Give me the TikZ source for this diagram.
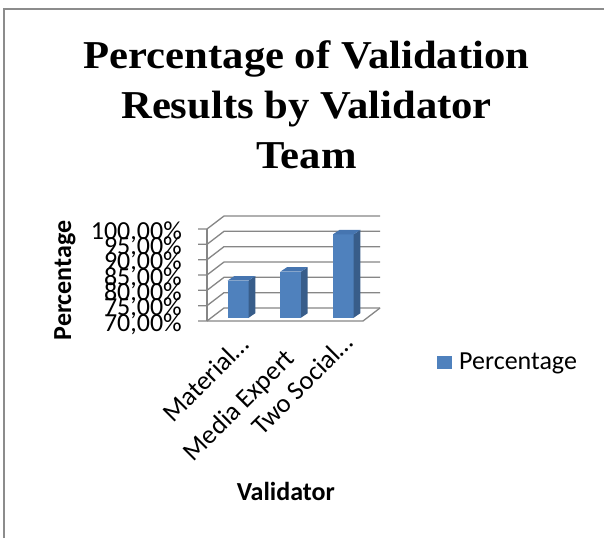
\documentclass[tikz,border=0pt]{standalone}
\usepackage{fontspec}
\setmainfont{Carlito}
\newfontfamily\titlefont{Liberation Serif}
\definecolor{gridgray}{HTML}{868686}
\definecolor{framegray}{HTML}{8C8C8C}
\definecolor{barfront}{HTML}{4F81BD}
\definecolor{barside}{HTML}{385D8A}
\definecolor{bartop}{HTML}{4675B0}
\newcommand\drawcolumn[3]{%
  \fill[barfront] (#1,#3) rectangle (#2,317.7);
  \fill[barside] (#2,#3) -- ({#2+6.7},{#3-4.5}) -- ({#2+6.7},313.2) -- (#2,317.7) -- cycle;
  \fill[bartop] (#1,#3) -- ({#1+6.7},{#3-4.5}) -- ({#2+6.7},{#3-4.5}) -- (#2,#3) -- cycle;
}
\newcommand\wide[1]{\scalebox{1.08}[1]{#1}}
\tikzset{
  grid/.style={draw=gridgray, line width=1.3pt, line join=miter},
  ticklabel/.style={font=\fontsize{26}{30}\selectfont, inner sep=0pt, anchor=base east},
  catlabel/.style={font=\fontsize{26.5}{30}\selectfont, inner sep=0pt, anchor=base east, rotate=45},
  axistitle/.style={font=\fontsize{26}{31}\selectfont\bfseries, inner sep=0pt, anchor=base},
  titletext/.style={font=\fontsize{39.5}{50}\selectfont\titlefont\bfseries, inner sep=0pt, anchor=base},
}
\begin{document}
\begin{tikzpicture}[x=1pt,y=-1pt]
\useasboundingbox (0,0) rectangle (604,538);
\fill[white] (0,0) rectangle (604,538);
% frame
\draw[framegray, line width=2.2pt] (4,538) -- (4,9) -- (604,9);
% title
\node[titletext] (t1) at (306.5,68.3) {\wide{Percentage of Validation}};
\node[titletext] (t2) at (306.5,118.5) {\wide{Results by Validator}};
\node[titletext] (t3) at (306.5,168.7) {\wide{Team}};
% gridlines and walls
\foreach \k in {0,...,6} {
  \pgfmathsetmacro\yy{229+15.33*\k}
  \draw[grid] (198,\yy) -- (207,\yy) -- (224,{\yy-13}) -- (380,{\yy-13});
}
\draw[grid] (207,229) -- (207,321);
\draw[grid] (207,321) -- (363,321) -- (380,308);
% columns
\drawcolumn{227.7}{248.7}{280.5}
\drawcolumn{280.3}{301}{271.7}
\drawcolumn{333}{353.7}{234.3}
% value axis labels
\foreach \k/\lab in {0/100,1/95,2/90,3/85,4/80,5/75,6/70} {
  \node[ticklabel] (yl\k) at (182,{239.3+15.33*\k}) {\lab,00\%};
}
% category labels
\node[catlabel] (c1) at (251,346) {Material…};
\node[catlabel] (c2) at (296,360) {Media Expert};
\node[catlabel] (c3) at (355,344) {Two Social…};
% axis titles
\node[axistitle, rotate=90] (ytitle) at (71,280.5) {Percentage};
\node[axistitle] (xtitle) at (285.8,500) {Validator};
% legend
\fill[barfront] (437,356) rectangle (452,369.3);
\node[font=\fontsize{26}{31}\selectfont, inner sep=0pt, anchor=base west] (leg) at (459,369.3) {Percentage};
\end{tikzpicture}
\end{document}
